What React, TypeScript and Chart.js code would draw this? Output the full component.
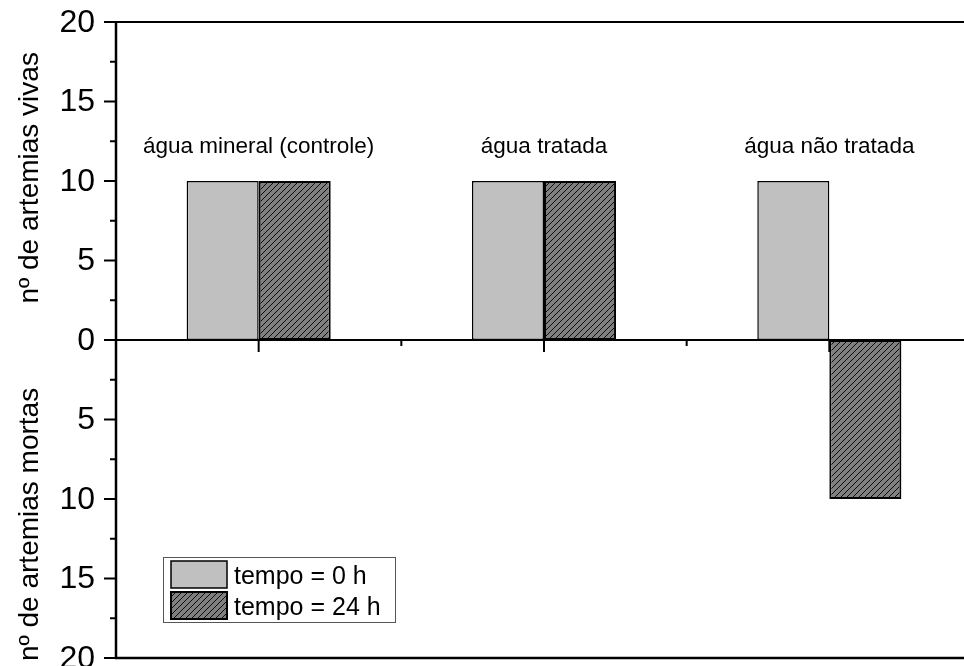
import React, { useEffect, useRef } from "react";
import { Chart, registerables } from "chart.js";

Chart.register(...registerables);

// Groups along the x axis
const categories = ["água mineral (controle)", "água tratada", "água não tratada"];
// Live artemias are positive, dead ones are plotted below zero
const tempo0h = [10, 10, 10];
const tempo24h = [10, 10, -10];
const seriesLabels = ["tempo = 0 h", "tempo = 24 h"];
const yMajorTicks = [-20, -15, -10, -5, 0, 5, 10, 15, 20];
const yMinorTicks = [-17.5, -12.5, -7.5, -2.5, 2.5, 7.5, 12.5, 17.5];
const yTitles = ["nº de artemias vivas", "nº de artemias mortas"];

const FONT = "'Liberation Sans', Arial, sans-serif";
const GREY = "#c0c0c0";

function makeHatch(ctx: CanvasRenderingContext2D): CanvasPattern | string {
  const s = 6;
  const c = document.createElement("canvas");
  c.width = s;
  c.height = s;
  const g = c.getContext("2d");
  if (!g) return "#777";
  g.fillStyle = "#808080";
  g.fillRect(0, 0, s, s);
  g.strokeStyle = "#000";
  g.lineWidth = 0.9;
  g.beginPath();
  g.moveTo(0, s);
  g.lineTo(s, 0);
  g.moveTo(-1, 1);
  g.lineTo(1, -1);
  g.moveTo(s - 1, s + 1);
  g.lineTo(s + 1, s - 1);
  g.stroke();
  return ctx.createPattern(c, "repeat") || "#777";
}

export default function App() {
  const ref = useRef<HTMLCanvasElement | null>(null);

  useEffect(() => {
    const canvas = ref.current;
    if (!canvas) return;
    const ctx0 = canvas.getContext("2d");
    if (!ctx0) return;
    const hatch = makeHatch(ctx0);

    const framePlugin = {
      id: "frame",
      afterDatasetsDraw(chart: any) {
        const { ctx, chartArea } = chart;
        const x = chart.scales.x;
        const y = chart.scales.y;
        const { left, top, bottom } = chartArea;
        const y0 = y.getPixelForValue(0);
        ctx.save();
        ctx.strokeStyle = "#000";
        ctx.lineCap = "butt";

        // frame lines and zero line
        ctx.lineWidth = 2;
        ctx.beginPath();
        ctx.moveTo(left, top);
        ctx.lineTo(chart.width, top);
        ctx.moveTo(left, y0);
        ctx.lineTo(chart.width, y0);
        ctx.stroke();
        ctx.lineWidth = 2.5;
        ctx.beginPath();
        ctx.moveTo(left - 1, bottom);
        ctx.lineTo(chart.width, bottom);
        ctx.moveTo(left, top - 1);
        ctx.lineTo(left, bottom + 1);
        ctx.stroke();

        // y ticks
        ctx.lineWidth = 2;
        ctx.beginPath();
        yMajorTicks.forEach((v) => {
          const py = y.getPixelForValue(v);
          ctx.moveTo(left - 12, py);
          ctx.lineTo(left, py);
        });
        yMinorTicks.forEach((v) => {
          const py = y.getPixelForValue(v);
          ctx.moveTo(left - 6, py);
          ctx.lineTo(left, py);
        });
        ctx.stroke();

        // x ticks on the zero line
        ctx.beginPath();
        categories.forEach((_, i) => {
          const px = x.getPixelForValue(i);
          ctx.moveTo(px, y0);
          ctx.lineTo(px, y0 + 12);
          if (i < categories.length - 1) {
            const mx = (px + x.getPixelForValue(i + 1)) / 2;
            ctx.moveTo(mx, y0);
            ctx.lineTo(mx, y0 + 6);
          }
        });
        ctx.stroke();

        // y tick labels (absolute counts)
        ctx.fillStyle = "#000";
        ctx.font = `32px ${FONT}`;
        ctx.textAlign = "right";
        ctx.textBaseline = "middle";
        yMajorTicks.forEach((v) => {
          ctx.fillText(String(Math.abs(v)), left - 21, y.getPixelForValue(v) + 1);
        });

        // axis titles
        ctx.font = `28px ${FONT}`;
        ctx.textAlign = "center";
        ctx.textBaseline = "middle";
        const titleCenters = [y.getPixelForValue(10.2), y.getPixelForValue(-11.6)];
        yTitles.forEach((t, i) => {
          ctx.save();
          ctx.translate(30, titleCenters[i]);
          ctx.rotate(-Math.PI / 2);
          ctx.fillText(t, 0, 0);
          ctx.restore();
        });

        // group labels
        ctx.font = `22.5px ${FONT}`;
        ctx.textAlign = "center";
        ctx.textBaseline = "alphabetic";
        const labelY = y.getPixelForValue(10) - 28;
        categories.forEach((c, i) => {
          ctx.fillText(c, x.getPixelForValue(i), labelY);
        });

        // legend
        const lx = 163;
        const ly = 557;
        ctx.lineWidth = 1;
        ctx.strokeStyle = "#555";
        ctx.fillStyle = "#fff";
        ctx.fillRect(lx, ly, 232, 65);
        ctx.strokeRect(lx + 0.5, ly + 0.5, 232, 65);
        const fills = [GREY, hatch];
        const borders = [1.5, 2];
        seriesLabels.forEach((s, i) => {
          const sy = ly + 4 + i * 31;
          ctx.fillStyle = fills[i];
          ctx.fillRect(171, sy, 56, 27);
          ctx.strokeStyle = "#000";
          ctx.lineWidth = borders[i];
          ctx.strokeRect(171, sy, 56, 27);
          ctx.fillStyle = "#000";
          ctx.font = `25px ${FONT}`;
          ctx.textAlign = "left";
          ctx.textBaseline = "alphabetic";
          ctx.fillText(s, 234, sy + 23);
        });

        ctx.restore();
      },
    };

    const chart = new Chart(canvas, {
      type: "bar",
      data: {
        labels: categories,
        datasets: [
          {
            label: seriesLabels[0],
            data: tempo0h,
            backgroundColor: GREY,
            borderColor: "#000",
            borderWidth: 1.5,
            borderSkipped: false,
          },
          {
            label: seriesLabels[1],
            data: tempo24h,
            backgroundColor: hatch as any,
            borderColor: "#000",
            borderWidth: 2,
            borderSkipped: false,
          },
        ],
      },
      options: {
        responsive: false,
        animation: false,
        devicePixelRatio: 1,
        layout: { padding: { left: 116, top: 22, right: 8, bottom: 8 } },
        datasets: { bar: { categoryPercentage: 0.505, barPercentage: 1 } },
        plugins: { legend: { display: false }, tooltip: { enabled: false }, title: { display: false } },
        scales: {
          x: { type: "category", offset: true, display: false },
          y: { min: -20, max: 20, display: false },
        },
      },
      plugins: [framePlugin],
    });

    return () => chart.destroy();
  }, []);

  return (
    <div
      style={{
        position: "fixed",
        left: 0,
        top: 0,
        width: 964,
        height: 666,
        overflow: "hidden",
        background: "#fff",
      }}
    >
      <canvas ref={ref} width={980} height={666} style={{ display: "block" }} />
    </div>
  );
}
